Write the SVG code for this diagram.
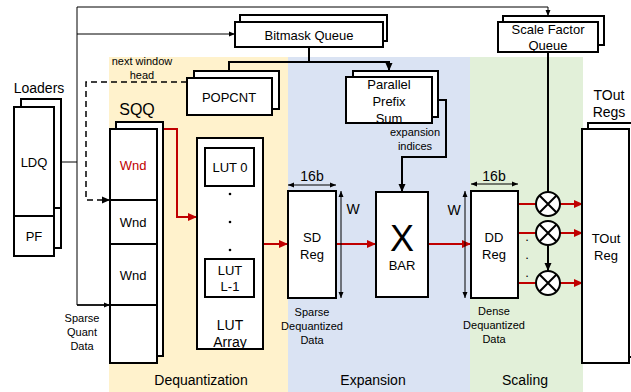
<svg xmlns="http://www.w3.org/2000/svg" width="631" height="392" viewBox="0 0 631 392">
<defs>
<marker id="ab" markerUnits="userSpaceOnUse" markerWidth="10" markerHeight="10" refX="9" refY="5" orient="auto"><path d="M1,1.5 L9,5 L1,8.5 Z" fill="#000"/></marker>
<marker id="abs" markerUnits="userSpaceOnUse" markerWidth="8" markerHeight="8" refX="7" refY="4" orient="auto"><path d="M1,1.5 L7,4 L1,6.5 Z" fill="#000"/></marker>
<marker id="ar" markerUnits="userSpaceOnUse" markerWidth="10" markerHeight="10" refX="9" refY="5" orient="auto"><path d="M0,1 L9,5 L0,9 Z" fill="#C00000"/></marker>
<marker id="dh" markerUnits="userSpaceOnUse" markerWidth="8" markerHeight="8" refX="7" refY="4" orient="auto-start-reverse"><path d="M1,1.5 L7,4 L1,6.5 Z" fill="#000"/></marker>
</defs>
<style>
text{font-family:"Liberation Sans",Arial,sans-serif;fill:#000;text-anchor:middle}
.box{fill:#fff;stroke:#000;stroke-width:2}
.t13{font-size:13px}
.t14{font-size:14px}
.t11{font-size:11px}
.thin{fill:none;stroke:#000;stroke-width:1}
.thick{fill:none;stroke:#000;stroke-width:2}
.red{fill:none;stroke:#C00000;stroke-width:2}
</style>
<g id="backgrounds">
<rect x="109" y="57" width="179" height="335" fill="#FFF2CC"/>
<rect x="288" y="57" width="182" height="335" fill="#DAE3F3"/>
<rect x="470" y="57" width="113" height="335" fill="#E2F0D9"/>
<text x="201" y="385" class="t14">Dequantization</text>
<text x="373" y="385" class="t14">Expansion</text>
<text x="525" y="385" class="t14">Scaling</text>
</g>
<g id="connectors">
<polyline class="thin" points="110,305 77,305 77,7 548,7 548,16" marker-end="url(#abs)"/>
<polyline class="thin" points="77,34 235,34" marker-end="url(#abs)"/>
<polyline class="thin" points="54,162 77,162"/>
<polyline class="thin" points="110,305 77,305"/>
<line x1="77" y1="305" x2="110" y2="305" class="thin" marker-end="url(#abs)"/>
<polyline points="187,82 86,82 86,200 110,200" fill="none" stroke="#000" stroke-width="1.5" stroke-dasharray="6,4" marker-end="url(#ab)"/>
<polyline class="thick" points="309,47 309,62 229,62 229,78" marker-end="url(#ab)"/>
<polyline class="thick" points="309,62 389,62 389,71" marker-end="url(#ab)"/>
<polyline class="thick" points="438,100 446,100 446,157 402,157 402,192" marker-end="url(#ab)"/>
<polyline class="red" points="158,129 177,129 177,217 197,217" marker-end="url(#ar)"/>
<line x1="263" y1="244" x2="288" y2="244" class="red" marker-end="url(#ar)"/>
<line x1="336" y1="244" x2="376" y2="244" class="red" marker-end="url(#ar)"/>
<line x1="428" y1="244" x2="471" y2="244" class="red" marker-end="url(#ar)"/>
<line x1="288" y1="185" x2="336" y2="185" class="thin" marker-start="url(#dh)" marker-end="url(#dh)"/>
<line x1="341" y1="191" x2="341" y2="298" class="thin" marker-start="url(#dh)" marker-end="url(#dh)"/>
<line x1="471" y1="184" x2="518" y2="184" class="thin" marker-start="url(#dh)" marker-end="url(#dh)"/>
<line x1="465" y1="191" x2="465" y2="298" class="thin" marker-start="url(#dh)" marker-end="url(#dh)"/>
<line x1="548" y1="52" x2="548" y2="192" class="thick"/>
<line x1="548" y1="245" x2="548" y2="271" class="thick" marker-end="url(#ab)"/>
<line x1="518" y1="204" x2="536" y2="204" class="red"/>
<line x1="518" y1="233" x2="536" y2="233" class="red"/>
<line x1="518" y1="283" x2="536" y2="283" class="red"/>
<line x1="560" y1="204" x2="583" y2="204" class="red" marker-end="url(#ar)"/>
<line x1="560" y1="233" x2="583" y2="233" class="red" marker-end="url(#ar)"/>
<line x1="560" y1="283" x2="583" y2="283" class="red" marker-end="url(#ar)"/>
</g>
<g id="labels">
<text x="142" y="65" class="t11">next window</text>
<text x="142" y="79" class="t11">head</text>
<text x="415" y="136" class="t11">expansion</text>
<text x="415" y="150" class="t11">indices</text>
<text x="82" y="322" class="t11">Sparse</text>
<text x="82" y="336" class="t11">Quant</text>
<text x="82" y="350" class="t11">Data</text>
<text x="312" y="181" class="t14">16b</text>
<text x="353" y="214" class="t14">W</text>
<text x="494" y="181" class="t14">16b</text>
<text x="454" y="215" class="t14">W</text>
<text x="312" y="316" class="t11">Sparse</text>
<text x="312" y="330" class="t11">Dequantized</text>
<text x="312" y="344" class="t11">Data</text>
<text x="494" y="315" class="t11">Dense</text>
<text x="494" y="329" class="t11">Dequantized</text>
<text x="494" y="343" class="t11">Data</text>
</g>
<g id="bitmask-queue">
<rect x="240" y="15" width="147" height="26" class="box"/>
<rect x="235" y="22" width="148" height="25" class="box"/>
<text x="309" y="40" class="t13">Bitmask Queue</text>
</g>
<g id="scale-factor-queue">
<rect x="503" y="16" width="101" height="29" class="box"/>
<rect x="498" y="22" width="100" height="30" class="box"/>
<text x="548" y="34" class="t13">Scale Factor</text>
<text x="548" y="50" class="t13">Queue</text>
</g>
<g id="popcnt">
<rect x="194" y="71" width="85" height="38" class="box"/>
<rect x="187" y="78" width="85" height="37" class="box"/>
<text x="229" y="102" class="t13">POPCNT</text>
</g>
<g id="parallel-prefix-sum">
<rect x="353" y="71" width="85" height="46" class="box"/>
<rect x="346" y="77" width="86" height="46" class="box"/>
<text x="389" y="89" class="t13">Parallel</text>
<text x="389" y="106" class="t13">Prefix</text>
<text x="389" y="123" class="t13">Sum</text>
</g>
<g id="loaders">
<text x="39" y="93" class="t14">Loaders</text>
<rect x="21" y="99" width="40" height="109" class="box"/>
<rect x="21" y="208" width="40" height="40" class="box"/>
<rect x="14" y="107" width="40" height="109" class="box"/>
<rect x="14" y="216" width="40" height="40" class="box"/>
<text x="34" y="167" class="t13">LDQ</text>
<text x="34" y="241" class="t13">PF</text>
</g>
<g id="sqq">
<text x="137" y="115" style="font-size:16px">SQQ</text>
<rect x="116" y="122" width="47" height="234" class="box"/>
<rect x="110" y="129" width="47" height="234" class="box"/>
<line x1="110" y1="200" x2="157" y2="200" stroke="#000" stroke-width="2"/>
<line x1="110" y1="244" x2="157" y2="244" stroke="#000" stroke-width="2"/>
<line x1="110" y1="305" x2="157" y2="305" stroke="#000" stroke-width="2"/>
<text x="133" y="170" class="t13" style="fill:#C00000">Wnd</text>
<text x="133" y="227" class="t13">Wnd</text>
<text x="133" y="280" class="t13">Wnd</text>
</g>
<g id="lut-array">
<rect x="197" y="138" width="66" height="211" class="box"/>
<rect x="205" y="148" width="49" height="38" class="box"/>
<text x="230" y="172" class="t13">LUT 0</text>
<rect x="205" y="259" width="49" height="38" class="box"/>
<text x="230" y="275" class="t13">LUT</text>
<text x="230" y="291" class="t13">L-1</text>
<circle cx="230" cy="194" r="1.3" fill="#000"/>
<circle cx="230" cy="222" r="1.3" fill="#000"/>
<circle cx="230" cy="250" r="1.3" fill="#000"/>
<text x="230" y="330" class="t14">LUT</text>
<text x="230" y="347" class="t14">Array</text>
</g>
<g id="sd-reg">
<rect x="288" y="191" width="48" height="107" class="box"/>
<text x="312" y="242" class="t13">SD</text>
<text x="312" y="259" class="t13">Reg</text>
</g>
<g id="xbar">
<rect x="376" y="192" width="52" height="105" class="box"/>
<text x="402" y="251" style="font-size:36px">X</text>
<text x="402" y="270" class="t13">BAR</text>
</g>
<g id="dd-reg">
<rect x="471" y="191" width="47" height="107" class="box"/>
<text x="494" y="242" class="t13">DD</text>
<text x="494" y="259" class="t13">Reg</text>
<text x="527" y="241" class="t13">.</text>
<text x="527" y="259" class="t13">.</text>
<text x="527" y="277" class="t13">.</text>
</g>
<g id="multipliers" stroke="#000" stroke-width="2" fill="#fff">
<g id="mul1"><circle cx="548" cy="204" r="12"/><path d="M539.5,195.5 L556.5,212.5 M556.5,195.5 L539.5,212.5"/></g>
<g id="mul2"><circle cx="548" cy="233" r="12"/><path d="M539.5,224.5 L556.5,241.5 M556.5,224.5 L539.5,241.5"/></g>
<g id="mul3"><circle cx="548" cy="283" r="12"/><path d="M539.5,274.5 L556.5,291.5 M556.5,274.5 L539.5,291.5"/></g>
</g>
<g id="tout-reg">
<text x="609" y="100" class="t14">TOut</text>
<text x="609" y="117" class="t14">Regs</text>
<rect x="588" y="123" width="46" height="234" class="box"/>
<rect x="582" y="129" width="47" height="234" class="box"/>
<text x="606" y="243" class="t13">TOut</text>
<text x="606" y="260" class="t13">Reg</text>
</g>
</svg>
